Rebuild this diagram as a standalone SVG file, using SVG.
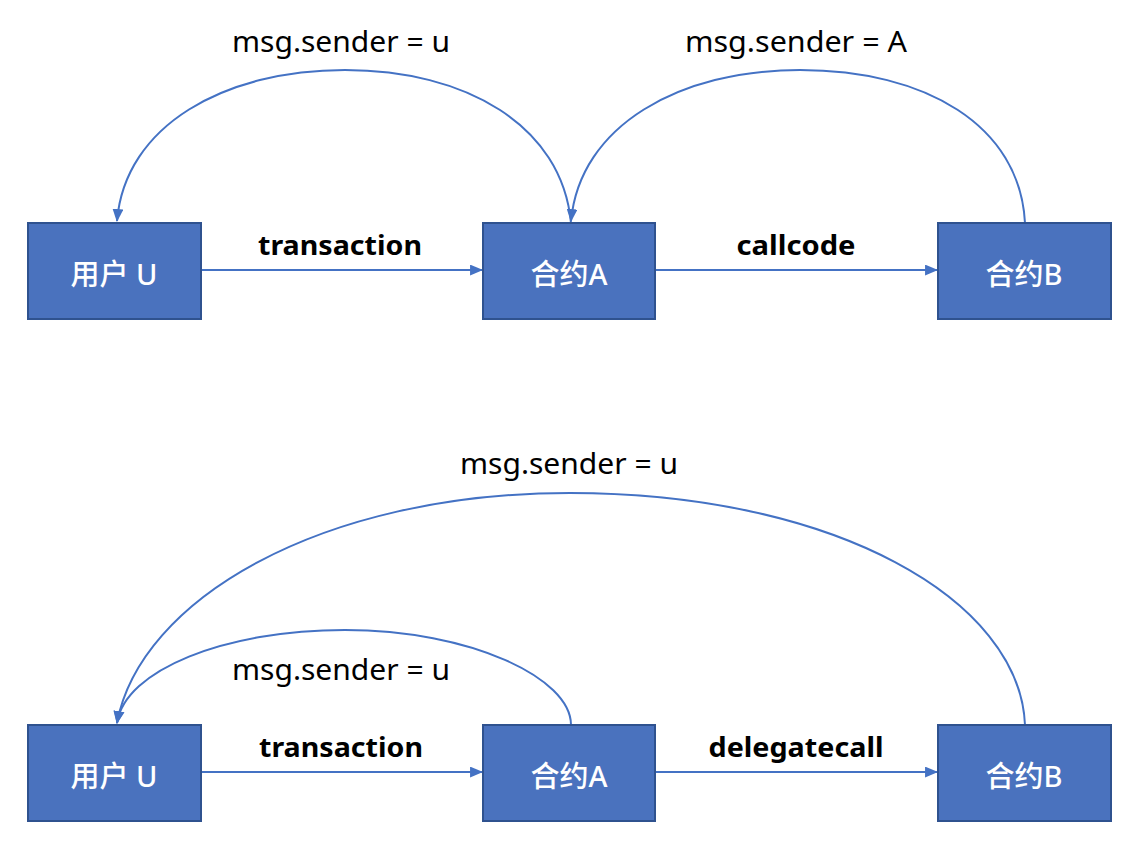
<svg xmlns="http://www.w3.org/2000/svg" width="1134" height="848" viewBox="0 0 1134 848">
<style>
.box{fill:#4A72BE;stroke:#2F528F;stroke-width:2}
.nt{fill:#fff;font-family:"Noto Sans","Noto Sans CJK SC",sans-serif;font-size:29px;font-weight:500;text-anchor:middle}
.lb{fill:#000;font-family:"Noto Sans","Liberation Sans",sans-serif;font-size:29px;text-anchor:middle}
.eb{fill:#000;font-family:"Noto Sans","Liberation Sans",sans-serif;font-size:26px;font-weight:bold;text-anchor:middle}
.ln{fill:none;stroke:#4472C4;stroke-width:2;marker-end:url(#ah)}
</style>
<defs>
<marker id="ah" viewBox="0 0 12 10" refX="11" refY="5" markerWidth="6.5" markerHeight="5.5" orient="auto">
<path d="M0,0 L12,5 L0,10 Z" fill="#4472C4"/>
</marker>
</defs>
<rect width="1134" height="848" fill="#fff"/>
<g id="connectors">
<path class="ln" d="M201,270 H482"/>
<path class="ln" d="M655,270 H937"/>
<path class="ln" d="M571,223 C562,125 465,70 345,70 C225,70 125,125 117,221"/>
<path class="ln" d="M1025,223 C1020,125 925,70 800,70 C680,70 580,125 571,221"/>
<path class="ln" d="M201,772 H482"/>
<path class="ln" d="M655,772 H937"/>
<path class="ln" d="M1025,725 C1020,600 835,493 570,493 C320,493 140,600 117,723"/>
<path class="ln" d="M571,725 C571,678 470,630 345,630 C225,630 125,670 117,723"/>
</g>
<g id="labels">
<text class="lb" x="341" y="52" textLength="218" lengthAdjust="spacingAndGlyphs">msg.sender = u</text>
<text class="lb" x="796" y="52" textLength="222" lengthAdjust="spacingAndGlyphs">msg.sender = A</text>
<text class="eb" x="340" y="255" textLength="164" lengthAdjust="spacingAndGlyphs">transaction</text>
<text class="eb" x="796" y="255" textLength="119" lengthAdjust="spacingAndGlyphs">callcode</text>
<text class="lb" x="569" y="474" textLength="218" lengthAdjust="spacingAndGlyphs">msg.sender = u</text>
<text class="lb" x="341" y="680" textLength="218" lengthAdjust="spacingAndGlyphs">msg.sender = u</text>
<text class="eb" x="341" y="757" textLength="164" lengthAdjust="spacingAndGlyphs">transaction</text>
<text class="eb" x="796" y="757" textLength="175" lengthAdjust="spacingAndGlyphs">delegatecall</text>
</g>
<g id="userU1"><rect class="box" x="28" y="223" width="173" height="96"/><text class="nt" x="114" y="285">用户 U</text></g>
<g id="contractA1"><rect class="box" x="483" y="223" width="172" height="96"/><text class="nt" x="569" y="285">合约A</text></g>
<g id="contractB1"><rect class="box" x="938" y="223" width="173" height="96"/><text class="nt" x="1024" y="285">合约B</text></g>
<g id="userU2"><rect class="box" x="28" y="725" width="173" height="96"/><text class="nt" x="114" y="787">用户 U</text></g>
<g id="contractA2"><rect class="box" x="483" y="725" width="172" height="96"/><text class="nt" x="569" y="787">合约A</text></g>
<g id="contractB2"><rect class="box" x="938" y="725" width="173" height="96"/><text class="nt" x="1024" y="787">合约B</text></g>
</svg>
